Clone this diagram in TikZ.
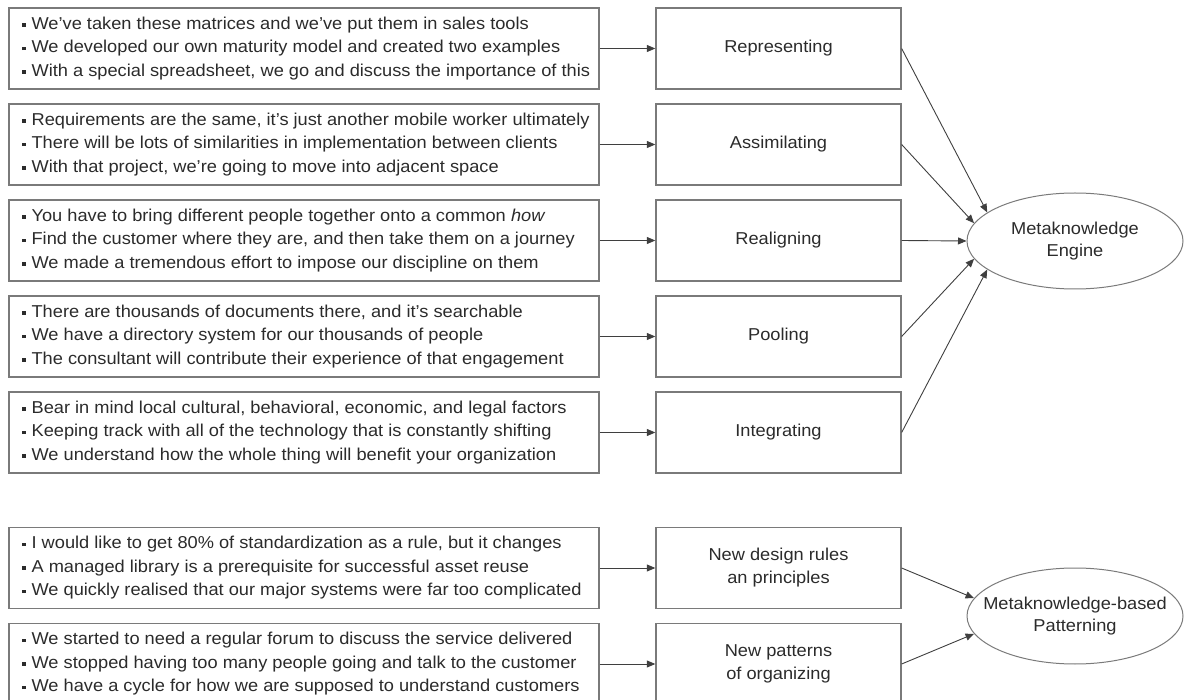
\documentclass[tikz,border=0pt]{standalone}
\usepackage{fontspec}
\setmainfont[FakeStretch=1.06]{Liberation Sans}
\usetikzlibrary{arrows.meta,shapes.geometric}
\definecolor{txt}{HTML}{2B2B2B}
\definecolor{edge}{HTML}{7A7A7A}
\definecolor{arr}{HTML}{3F3F3F}
\newcommand{\mybul}{\rule[2.8pt]{3.6pt}{3.6pt}\hspace{6pt}}
\newcommand{\bline}[1]{\mbox{\mybul #1}}
\newcommand{\twolines}[2]{\makebox[0pt][c]{\begin{tabular}{@{}c@{}}#1\\#2\end{tabular}}}
\begin{document}
\begin{tikzpicture}[x=1pt,y=-1pt,
  every node/.style={text=txt,font=\fontsize{17.2}{23.5}\selectfont},
  lbox/.style={draw=edge,line width=1.3pt,rectangle,minimum width=590pt,minimum height=81pt,
    text width=564pt,inner xsep=13pt,inner ysep=0pt,align=flush left},
  mbox/.style={draw=edge,line width=1.3pt,rectangle,minimum width=245pt,minimum height=81pt,
    inner sep=0pt,align=center,font=\fontsize{17.2}{23}\selectfont},
  engine/.style={draw=edge,line width=1pt,ellipse,minimum width=216pt,minimum height=96pt,
    inner sep=0pt,font=\fontsize{17.2}{22}\selectfont},
  conn/.style={draw=arr,line width=0.9pt,-{Triangle[length=8.5pt,width=7pt]}}
]
\useasboundingbox (0,0) rectangle (1184,700);

\node[lbox] (l1) at (304,48.5) {\bline{We've taken these matrices and we've put them in sales tools}\\
\bline{We developed our own maturity model and created two examples}\\
\bline{With a special spreadsheet, we go and discuss the importance of this}};
\node[lbox] (l2) at (304,144.5) {\bline{Requirements are the same, it’s just another mobile worker ultimately}\\
\bline{There will be lots of similarities in implementation between clients}\\
\bline{With that project, we’re going to move into adjacent space}};
\node[lbox] (l3) at (304,240.5) {\bline{You have to bring different people together onto a common \textit{how}}\\
\bline{Find the customer where they are, and then take them on a journey}\\
\bline{We made a tremendous effort to impose our discipline on them}};
\node[lbox] (l4) at (304,336.5) {\bline{There are thousands of documents there, and it’s searchable}\\
\bline{We have a directory system for our thousands of people}\\
\bline{The consultant will contribute their experience of that engagement}};
\node[lbox] (l5) at (304,432.5) {\bline{Bear in mind local cultural, behavioral, economic, and legal factors}\\
\bline{Keeping track with all of the technology that is constantly shifting}\\
\bline{We understand how the whole thing will benefit your organization}};
\node[lbox] (l6) at (304,568) {\bline{I would like to get 80\% of standardization as a rule, but it changes}\\
\bline{A managed library is a prerequisite for successful asset reuse}\\
\bline{We quickly realised that our major systems were far too complicated}};
\node[lbox] (l7) at (304,664) {\bline{We started to need a regular forum to discuss the service delivered}\\
\bline{We stopped having too many people going and talk to the customer}\\
\bline{We have a cycle for how we are supposed to understand customers}};

\node[mbox] (m1) at (778.5,48.5) {Representing};
\node[mbox] (m2) at (778.5,144.5) {Assimilating};
\node[mbox] (m3) at (778.5,240.5) {Realigning};
\node[mbox] (m4) at (778.5,336.5) {Pooling};
\node[mbox] (m5) at (778.5,432.5) {Integrating};
\node[mbox] (m6) at (778.5,568) {New design rules\\an principles};
\node[mbox] (m7) at (778.5,664) {New patterns\\of organizing};

\node[engine] (e1) at (1075,241) {\twolines{Metaknowledge}{Engine}};
\node[engine] (e2) at (1075,616) {\twolines{Metaknowledge-based}{Patterning}};

\foreach \i in {1,...,7} {\draw[conn] (l\i.east) -- (m\i.west);}

\draw[conn] (m1.east) -- (e1.162);
\draw[conn] (m2.east) -- (e1.170);
\draw[conn] (m3.east) -- (e1.west);
\draw[conn] (m4.east) -- (e1.190);
\draw[conn] (m5.east) -- (e1.198);
\draw[conn] (m6.east) -- (e2.170);
\draw[conn] (m7.east) -- (e2.190);
\end{tikzpicture}
\end{document}
